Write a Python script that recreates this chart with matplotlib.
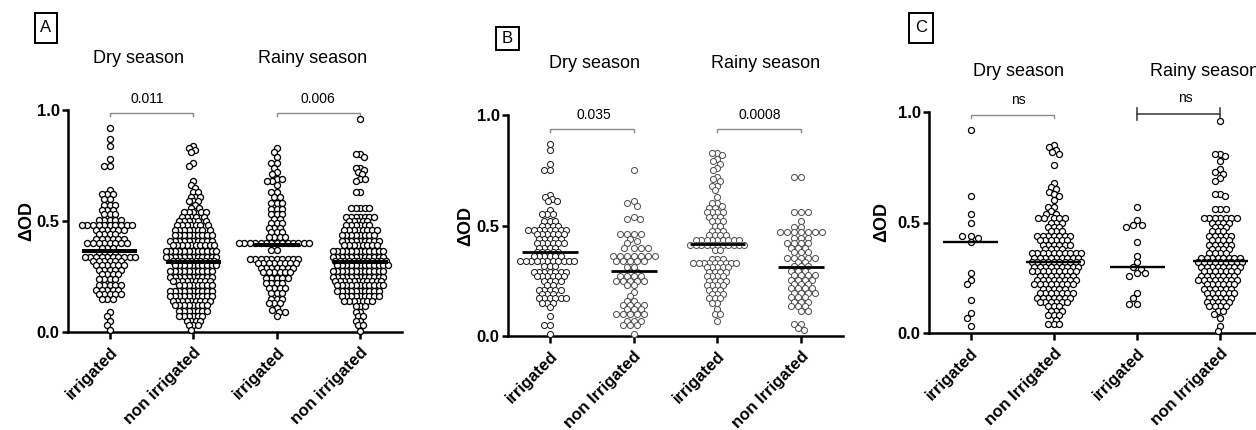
import numpy as np
import matplotlib
matplotlib.use("Agg")
import matplotlib.pyplot as plt
from matplotlib.patches import Rectangle

plt.rcParams['font.family'] = ['Liberation Sans', 'DejaVu Sans']

# ---------------- data ----------------
labels_A = ["irrigated", "non irrigated", "irrigated", "non irrigated"]
labels_BC = ["irrigated", "non Irrigated", "irrigated", "non Irrigated"]
seasons = ["Dry season", "Rainy season"]
panel_letters = ["A", "B", "C"]

A_dry_irr = [0.92, 0.87, 0.84, 0.78, 0.75, 0.75,
             0.64, 0.62, 0.62, 0.62, 0.60, 0.60,
             0.57, 0.57, 0.57, 0.55, 0.55, 0.55,
             0.53, 0.53, 0.53, 0.505, 0.505, 0.505, 0.505, 0.505,
             0.48, 0.48, 0.48, 0.48, 0.48, 0.48, 0.48, 0.48, 0.48, 0.48,
             0.46, 0.46, 0.46, 0.46, 0.46, 0.46,
             0.44, 0.44, 0.44, 0.44, 0.42, 0.42, 0.42, 0.42, 0.42, 0.42,
             0.40, 0.40, 0.40, 0.40, 0.40, 0.40, 0.40, 0.40,
             0.38, 0.38, 0.38, 0.36, 0.36, 0.36, 0.36,
             0.34, 0.34, 0.34, 0.34, 0.34, 0.34, 0.34, 0.34, 0.34, 0.34,
             0.32, 0.32, 0.32, 0.32, 0.32, 0.32,
             0.30, 0.30, 0.30, 0.30, 0.30, 0.30, 0.28, 0.28, 0.28, 0.28, 0.28,
             0.26, 0.26, 0.26, 0.26, 0.24, 0.24, 0.24, 0.24,
             0.21, 0.21, 0.21, 0.21, 0.21, 0.19, 0.19, 0.19, 0.19, 0.19,
             0.17, 0.17, 0.17, 0.17, 0.17, 0.15, 0.15, 0.15,
             0.09, 0.07, 0.05, 0.03, 0.01]

A_dry_non = [0.84, 0.83, 0.82, 0.81, 0.76, 0.75, 0.68, 0.66, 0.65, 0.63, 0.63,
             0.61, 0.61, 0.61, 0.59, 0.59, 0.59, 0.57, 0.56, 0.56,
             0.54, 0.54, 0.54, 0.54, 0.54,
             0.52, 0.52, 0.52, 0.52, 0.52,
             0.50, 0.50, 0.50, 0.50, 0.50, 0.50,
             0.48, 0.48, 0.48, 0.48, 0.48, 0.48, 0.48,
             0.46, 0.46, 0.46, 0.46, 0.46, 0.46, 0.46, 0.46,
             0.435, 0.435, 0.435, 0.435, 0.435, 0.435, 0.435, 0.435, 0.435,
             0.41, 0.41, 0.41, 0.41, 0.41, 0.41, 0.41, 0.41, 0.41, 0.41,
             0.39, 0.39, 0.39, 0.39, 0.39, 0.39, 0.39, 0.39, 0.39, 0.39,
             0.365, 0.365, 0.365, 0.365, 0.365, 0.365, 0.365, 0.365, 0.365, 0.365, 0.365, 0.365,
             0.34, 0.34, 0.34, 0.34, 0.34, 0.34, 0.34, 0.34, 0.34, 0.34, 0.34, 0.34,
             0.32, 0.32, 0.32, 0.32, 0.32, 0.32, 0.32, 0.32, 0.32, 0.32,
             0.30, 0.30, 0.30, 0.30, 0.30, 0.30, 0.30, 0.30, 0.30, 0.30,
             0.275, 0.275, 0.275, 0.275, 0.275, 0.275, 0.275, 0.275, 0.275, 0.275,
             0.25, 0.25, 0.25, 0.25, 0.25, 0.25, 0.25, 0.25, 0.25, 0.25,
             0.23, 0.23, 0.23, 0.23, 0.23, 0.23, 0.23, 0.23, 0.23,
             0.21, 0.21, 0.21, 0.21, 0.21, 0.21, 0.21, 0.21,
             0.185, 0.185, 0.185, 0.185, 0.185, 0.185, 0.185, 0.185, 0.185, 0.185,
             0.16, 0.16, 0.16, 0.16, 0.16, 0.16, 0.16, 0.16, 0.16, 0.16,
             0.14, 0.14, 0.14, 0.14, 0.14, 0.14, 0.14, 0.14, 0.14,
             0.12, 0.12, 0.12, 0.12, 0.12, 0.12, 0.12, 0.12,
             0.095, 0.095, 0.095, 0.095, 0.095, 0.095, 0.095,
             0.07, 0.07, 0.07, 0.07, 0.07, 0.07,
             0.05, 0.05, 0.05, 0.05,
             0.03, 0.03, 0.03,
             0.01]

A_rainy_irr = [0.83, 0.81, 0.79, 0.76, 0.76, 0.74, 0.72, 0.71, 0.69, 0.69, 0.68, 0.68,
               0.66, 0.63, 0.63, 0.61, 0.61,
               0.58, 0.58, 0.58, 0.555, 0.555, 0.555, 0.53, 0.53, 0.53,
               0.51, 0.51, 0.49, 0.49, 0.49,
               0.47, 0.47, 0.47, 0.45, 0.45, 0.45, 0.43, 0.43, 0.43, 0.43,
               0.40, 0.40, 0.40, 0.40, 0.40, 0.40, 0.40, 0.40, 0.40, 0.40, 0.40, 0.40, 0.40, 0.40,
               0.37, 0.37,
               0.33, 0.33, 0.33, 0.33, 0.33, 0.33, 0.33, 0.33, 0.33, 0.33,
               0.31, 0.31, 0.31, 0.31, 0.31, 0.31, 0.31, 0.31,
               0.29, 0.29, 0.29, 0.29, 0.29, 0.29, 0.29,
               0.27, 0.27, 0.27, 0.27, 0.27, 0.27,
               0.245, 0.245, 0.245, 0.245, 0.245,
               0.22, 0.22, 0.22, 0.22,
               0.20, 0.20, 0.20, 0.20,
               0.175, 0.175, 0.175, 0.15, 0.15, 0.15, 0.13, 0.13, 0.13,
               0.11, 0.10, 0.09, 0.09, 0.07]

A_rainy_non = [0.96, 0.80, 0.80, 0.79, 0.74, 0.74, 0.73, 0.72, 0.71, 0.69, 0.69, 0.68, 0.63, 0.63,
               0.56, 0.56, 0.56, 0.56, 0.56,
               0.52, 0.52, 0.52, 0.52, 0.52, 0.52, 0.52,
               0.50, 0.50, 0.50, 0.50, 0.50,
               0.48, 0.48, 0.48, 0.48, 0.48, 0.48,
               0.46, 0.46, 0.46, 0.46, 0.46, 0.46, 0.46, 0.46,
               0.435, 0.435, 0.435, 0.435, 0.435, 0.435, 0.435, 0.435,
               0.41, 0.41, 0.41, 0.41, 0.41, 0.41, 0.41, 0.41, 0.41,
               0.39, 0.39, 0.39, 0.39, 0.39, 0.39, 0.39, 0.39,
               0.365, 0.365, 0.365, 0.365, 0.365, 0.365, 0.365, 0.365, 0.365, 0.365, 0.365, 0.365,
               0.34, 0.34, 0.34, 0.34, 0.34, 0.34, 0.34, 0.34, 0.34, 0.34, 0.34, 0.34,
               0.32, 0.32, 0.32, 0.32, 0.32, 0.32, 0.32, 0.32, 0.32, 0.32, 0.32, 0.32,
               0.30, 0.30, 0.30, 0.30, 0.30, 0.30, 0.30, 0.30, 0.30, 0.30, 0.30, 0.30,
               0.275, 0.275, 0.275, 0.275, 0.275, 0.275, 0.275, 0.275, 0.275, 0.275, 0.275, 0.275,
               0.25, 0.25, 0.25, 0.25, 0.25, 0.25, 0.25, 0.25, 0.25, 0.25, 0.25, 0.25,
               0.23, 0.23, 0.23, 0.23, 0.23, 0.23, 0.23, 0.23, 0.23, 0.23, 0.23,
               0.21, 0.21, 0.21, 0.21, 0.21, 0.21, 0.21, 0.21, 0.21, 0.21, 0.21,
               0.185, 0.185, 0.185, 0.185, 0.185, 0.185, 0.185, 0.185, 0.185, 0.185,
               0.16, 0.16, 0.16, 0.16, 0.16, 0.16, 0.16, 0.16, 0.16,
               0.14, 0.14, 0.14, 0.14, 0.14, 0.14, 0.14,
               0.115, 0.115, 0.115, 0.09, 0.09, 0.07, 0.07, 0.05, 0.05, 0.03, 0.03, 0.005]

B_dry_irr = [0.87, 0.84, 0.78, 0.75, 0.75, 0.64, 0.63, 0.62, 0.61, 0.61, 0.57, 0.55, 0.55, 0.55,
             0.52, 0.52, 0.52, 0.50, 0.50, 0.50, 0.50,
             0.48, 0.48, 0.48, 0.48, 0.48, 0.48, 0.48, 0.48,
             0.46, 0.46, 0.46, 0.46, 0.46, 0.46,
             0.44, 0.44, 0.44, 0.44, 0.44,
             0.42, 0.42, 0.42, 0.42, 0.42, 0.42,
             0.40, 0.40, 0.40, 0.40,
             0.38, 0.38, 0.38, 0.38, 0.38,
             0.36, 0.36, 0.36, 0.36, 0.36, 0.36,
             0.34, 0.34, 0.34, 0.34, 0.34, 0.34, 0.34, 0.34, 0.34, 0.34, 0.34,
             0.315, 0.315, 0.315,
             0.29, 0.29, 0.29, 0.29, 0.29, 0.29, 0.29,
             0.27, 0.27, 0.27, 0.27, 0.27, 0.27,
             0.25, 0.25, 0.25, 0.25, 0.23, 0.23,
             0.21, 0.21, 0.21, 0.21, 0.21,
             0.19, 0.19, 0.19,
             0.17, 0.17, 0.17, 0.17, 0.17, 0.17,
             0.15, 0.15, 0.15, 0.13, 0.09, 0.05, 0.05, 0.01]

B_dry_non = [0.75, 0.61, 0.60, 0.59, 0.54, 0.53, 0.53, 0.46, 0.46, 0.46, 0.46,
             0.44, 0.43, 0.42, 0.40, 0.40, 0.40, 0.40,
             0.36, 0.36, 0.36, 0.36, 0.36, 0.36, 0.36,
             0.34, 0.34, 0.34, 0.34, 0.34,
             0.31, 0.31, 0.29, 0.29,
             0.27, 0.27, 0.27, 0.27,
             0.25, 0.25, 0.25, 0.25, 0.25,
             0.23, 0.23, 0.20, 0.18, 0.16, 0.16,
             0.14, 0.14, 0.14, 0.14, 0.12, 0.12, 0.12,
             0.10, 0.10, 0.10, 0.10, 0.10,
             0.07, 0.07, 0.07, 0.05, 0.05, 0.05, 0.01]

B_rainy_irr = [0.83, 0.83, 0.82, 0.80, 0.79, 0.78, 0.76, 0.75, 0.72, 0.71, 0.70, 0.68, 0.68,
               0.66, 0.63, 0.60, 0.60, 0.59, 0.58, 0.58,
               0.56, 0.56, 0.56, 0.56, 0.54, 0.54, 0.54, 0.52, 0.52, 0.52, 0.50, 0.50,
               0.475, 0.475, 0.475, 0.455, 0.455, 0.455, 0.455,
               0.435, 0.435, 0.435, 0.435, 0.435, 0.435, 0.435, 0.435, 0.435,
               0.41, 0.41, 0.41, 0.41, 0.41, 0.41, 0.41, 0.41, 0.41, 0.41, 0.41,
               0.39, 0.39, 0.35, 0.35, 0.35,
               0.33, 0.33, 0.33, 0.33, 0.33, 0.33, 0.33, 0.33, 0.33,
               0.31, 0.31, 0.31, 0.31, 0.31,
               0.29, 0.29, 0.29, 0.29,
               0.27, 0.27, 0.27, 0.27,
               0.25, 0.25, 0.25, 0.25,
               0.23, 0.23, 0.23, 0.23,
               0.21, 0.21, 0.21, 0.19, 0.19, 0.19, 0.17, 0.17, 0.17,
               0.15, 0.15, 0.12, 0.10, 0.10, 0.07]

B_rainy_non = [0.72, 0.72, 0.56, 0.56, 0.56, 0.52, 0.495, 0.495,
               0.47, 0.47, 0.47, 0.47, 0.47, 0.47, 0.47,
               0.445, 0.445, 0.445, 0.42, 0.42, 0.42, 0.42,
               0.40, 0.40, 0.40, 0.38, 0.38, 0.38,
               0.355, 0.355, 0.355, 0.355, 0.355, 0.335, 0.335,
               0.315, 0.315, 0.315, 0.295, 0.295, 0.295,
               0.275, 0.275, 0.275, 0.275, 0.255, 0.255, 0.255, 0.255,
               0.235, 0.235, 0.235, 0.215, 0.215, 0.215, 0.215,
               0.195, 0.195, 0.195, 0.195, 0.175, 0.175, 0.175,
               0.155, 0.155, 0.155, 0.135, 0.135, 0.135, 0.115, 0.115,
               0.055, 0.055, 0.035, 0.025]

C_dry_irr = [0.92, 0.62, 0.54, 0.50, 0.44, 0.44, 0.43, 0.41, 0.27, 0.24, 0.22, 0.15, 0.09, 0.07, 0.03]

C_dry_non = [0.85, 0.84, 0.83, 0.82, 0.81, 0.76, 0.68, 0.66, 0.65, 0.64, 0.63, 0.62, 0.60,
             0.57, 0.57, 0.55, 0.54, 0.54,
             0.52, 0.52, 0.52, 0.52, 0.52, 0.50, 0.50, 0.50, 0.48, 0.48, 0.48,
             0.46, 0.46, 0.46,
             0.44, 0.44, 0.44, 0.44, 0.44, 0.44, 0.44,
             0.42, 0.42, 0.42, 0.42, 0.42, 0.42,
             0.40, 0.40, 0.40, 0.40, 0.40, 0.40,
             0.38, 0.38, 0.38, 0.38,
             0.36, 0.36, 0.36, 0.36, 0.36, 0.36, 0.36, 0.36, 0.36, 0.36,
             0.34, 0.34, 0.34, 0.34, 0.34, 0.34, 0.34, 0.34, 0.34,
             0.32, 0.32, 0.32, 0.32, 0.32, 0.32, 0.32, 0.32, 0.32, 0.32,
             0.30, 0.30, 0.30, 0.30, 0.30, 0.30, 0.30, 0.30, 0.30,
             0.28, 0.28, 0.28, 0.28, 0.28, 0.28, 0.28, 0.28, 0.28,
             0.26, 0.26, 0.26, 0.26, 0.26, 0.26, 0.26,
             0.24, 0.24, 0.24, 0.24, 0.24, 0.24, 0.24, 0.24,
             0.22, 0.22, 0.22, 0.22, 0.22, 0.22, 0.22, 0.22,
             0.20, 0.20, 0.20, 0.20, 0.20,
             0.18, 0.18, 0.18, 0.18, 0.18, 0.18, 0.18,
             0.16, 0.16, 0.16, 0.16, 0.16, 0.16, 0.16,
             0.14, 0.14, 0.14, 0.14, 0.14, 0.14,
             0.12, 0.12, 0.12, 0.10, 0.10, 0.10, 0.08, 0.08, 0.08,
             0.06, 0.04, 0.04, 0.04]

C_rainy_irr = [0.57, 0.51, 0.49, 0.49, 0.48, 0.41, 0.35, 0.32, 0.30, 0.29, 0.27, 0.27, 0.26,
               0.18, 0.16, 0.13, 0.13]

C_rainy_non = [0.96, 0.81, 0.81, 0.80, 0.78, 0.74, 0.73, 0.72, 0.70, 0.69, 0.63, 0.63, 0.62,
               0.56, 0.56, 0.56,
               0.52, 0.52, 0.52, 0.52, 0.52, 0.52, 0.52,
               0.50, 0.50, 0.50, 0.50, 0.48, 0.48, 0.48,
               0.46, 0.46, 0.46, 0.44, 0.44, 0.44, 0.44, 0.44,
               0.42, 0.42, 0.42, 0.42,
               0.40, 0.40, 0.40, 0.40, 0.40,
               0.38, 0.38, 0.38, 0.38, 0.36, 0.36, 0.36, 0.36,
               0.34, 0.34, 0.34, 0.34, 0.34, 0.34, 0.34, 0.34,
               0.32, 0.32, 0.32, 0.32, 0.32, 0.32, 0.32, 0.32, 0.32,
               0.30, 0.30, 0.30, 0.30, 0.30, 0.30, 0.30, 0.30,
               0.28, 0.28, 0.28, 0.28, 0.28, 0.28, 0.28,
               0.26, 0.26, 0.26, 0.26, 0.26, 0.26, 0.26,
               0.24, 0.24, 0.24, 0.24, 0.24, 0.24, 0.24, 0.24,
               0.22, 0.22, 0.22, 0.22, 0.22, 0.22,
               0.20, 0.20, 0.20, 0.20, 0.20, 0.20,
               0.18, 0.18, 0.18, 0.18, 0.18, 0.18,
               0.16, 0.16, 0.16, 0.16, 0.16,
               0.14, 0.14, 0.14, 0.14, 0.14,
               0.12, 0.12, 0.12, 0.12, 0.10, 0.10, 0.085, 0.07, 0.03, 0.01]

medians_A = [0.366, 0.317, 0.392, 0.317]
medians_B = [0.379, 0.296, 0.415, 0.314]
medians_C = [0.41, 0.32, 0.30, 0.326]

pvals_A = ["0.011", "0.006"]
pvals_B = ["0.035", "0.0008"]
pvals_C = ["ns", "ns"]

yticks = [0.0, 0.5, 1.0]
yticklabels = ["0.0", "0.5", "1.0"]

# ---------------- figure ----------------
W, H = 1256, 430
fig = plt.figure(figsize=(W / 100, H / 100), dpi=100)


def swarm(values, ppu_y, DX, DY):
    """x offsets (pixels) so that no two dots collide (elliptic spacing DX x DY)."""
    vals = np.asarray(values, float)
    ys = vals * ppu_y
    order = np.argsort(-vals, kind="stable")
    px_list, py_list = [], []
    offs = np.zeros(len(vals))
    for i in order:
        y = ys[i]
        cands = [0.0]
        near = []
        for px, py in zip(px_list, py_list):
            dy = abs(py - y)
            if dy < DY:
                dx = DX * np.sqrt(1 - (dy / DY) ** 2)
                cands += [px + dx, px - dx]
                near.append((px, py))
        cands.sort(key=lambda c: (abs(c), c))
        for c in cands:
            if all(((c - px) / DX) ** 2 + ((y - py) / DY) ** 2 >= 1 - 1e-6 for px, py in near):
                offs[i] = c
                break
        px_list.append(offs[i])
        py_list.append(y)
    return offs


panels = [
    dict(rect=(68, 110, 334, 222), groups=[A_dry_irr, A_dry_non, A_rainy_irr, A_rainy_non],
         labels=labels_A, medians=medians_A, pvals=pvals_A,
         season_x=[0.35, 2.43], season_y=1.234, p_x=[0.45, 2.49], p_y=[1.05, 1.05],
         br_y=[0.985, 0.985], br_style=["light", "light"],
         colors=["black"] * 4, mlw=0.95, med_lw=2.9, med_w=[0.66, 0.66, 0.55, 0.66],
         dx=[5.6, 4.6, 5.4, 4.6],
         box=(35, 13, 22, 30), ylab_off=33),
    dict(rect=(508, 115, 335, 221), groups=[B_dry_irr, B_dry_non, B_rainy_irr, B_rainy_non],
         labels=labels_BC, medians=medians_B, pvals=pvals_B,
         season_x=[0.53, 2.58], season_y=1.235, p_x=[0.53, 2.51], p_y=[1.0, 1.0],
         br_y=[0.937, 0.937], br_style=["light", "light"],
         colors=["#222222", "#555555", "#555555", "#555555"], mlw=0.75, med_lw=2.0,
         med_w=[0.66, 0.55, 0.66, 0.55], dx=[5.4, 7.0, 5.4, 7.0],
         box=(496, 27, 23, 23), ylab_off=34),
    dict(rect=(929, 112, 333, 221), groups=[C_dry_irr, C_dry_non, C_rainy_irr, C_rainy_non],
         labels=labels_BC, medians=medians_C, pvals=pvals_C,
         season_x=[0.57, 2.81], season_y=1.181, p_x=[0.57, 2.58], p_y=[1.054, 1.063],
         br_y=[0.986, 0.99], br_style=["light", "dark"],
         colors=["black"] * 4, mlw=0.9, med_lw=1.7, med_w=[0.66, 0.66, 0.66, 0.66],
         dx=[8.5, 5.5, 8.5, 5.5],
         box=(909, 13, 24, 30), ylab_off=39),
]

DY = 5.0
for k, P in enumerate(panels):
    x0, ytop, w, h = P["rect"]
    ax = fig.add_axes([x0 / W, 1 - (ytop + h) / H, w / W, h / H])
    ax.set_xlim(-0.5, 3.5)
    ax.set_ylim(0, 1.0)
    ppu_x = w / 4.0
    ppu_y = h / 1.0
    for i, vals in enumerate(P["groups"]):
        offs = swarm(vals, ppu_y, P["dx"][i], DY)
        ax.scatter(i + offs / ppu_x, vals, s=19, facecolors="white",
                   edgecolors=P["colors"][i], linewidths=P["mlw"], clip_on=False, zorder=3)
        m = P["medians"][i]
        hw = P["med_w"][i] / 2
        ax.plot([i - hw, i + hw], [m, m], color="black", lw=P["med_lw"],
                solid_capstyle="butt", zorder=4)

    for s in ["top", "right"]:
        ax.spines[s].set_visible(False)
    for s in ["left", "bottom"]:
        ax.spines[s].set_linewidth(1.8)
    ax.set_yticks(yticks)
    ax.set_yticklabels(yticklabels, fontsize=12, fontweight="bold")
    ax.set_xticks(range(4))
    ax.set_xticklabels(P["labels"], rotation=45, ha="right", rotation_mode="anchor",
                       fontsize=12, fontweight="bold")
    ax.tick_params(axis="y", direction="out", length=4, width=1.8, pad=2)
    ax.tick_params(axis="x", direction="out", length=5, width=1.8, pad=4)
    ax.set_ylabel("ΔOD", fontsize=13, fontweight="bold")
    ax.yaxis.set_label_coords(-P["ylab_off"] / w, 0.5)
    ax.patch.set_alpha(0)

    # season labels
    for j in range(2):
        ax.text(P["season_x"][j], P["season_y"], seasons[j], ha="center", va="center",
                fontsize=13, clip_on=False)
    # brackets
    tick = 3.0 / ppu_y
    for j in range(2):
        a, b = 2 * j, 2 * j + 1
        yb = P["br_y"][j]
        if P["br_style"][j] == "light":
            ax.plot([a, a, b, b], [yb - tick, yb, yb, yb - tick], color="#8a8a8a", lw=1.0,
                    clip_on=False, zorder=2)
        else:
            ax.plot([a, b], [yb, yb], color="#444444", lw=1.2, clip_on=False, zorder=2)
            for xx in (a, b):
                ax.plot([xx, xx], [yb - 2 * tick, yb + 2 * tick], color="#444444", lw=1.2,
                        clip_on=False, zorder=2)
        ax.text(P["p_x"][j], P["p_y"][j], P["pvals"][j], ha="center", va="center",
                fontsize=10, clip_on=False)

    # panel letter box
    bx, by, bw, bh = P["box"]
    fig.patches.append(Rectangle((bx / W, 1 - (by + bh) / H), bw / W, bh / H, fill=False,
                                 lw=1.4, edgecolor="black", transform=fig.transFigure,
                                 figure=fig))
    fig.text((bx + bw / 2) / W, 1 - (by + bh / 2) / H, panel_letters[k], ha="center",
             va="center", fontsize=12)

fig.savefig("out.png", dpi=100)
